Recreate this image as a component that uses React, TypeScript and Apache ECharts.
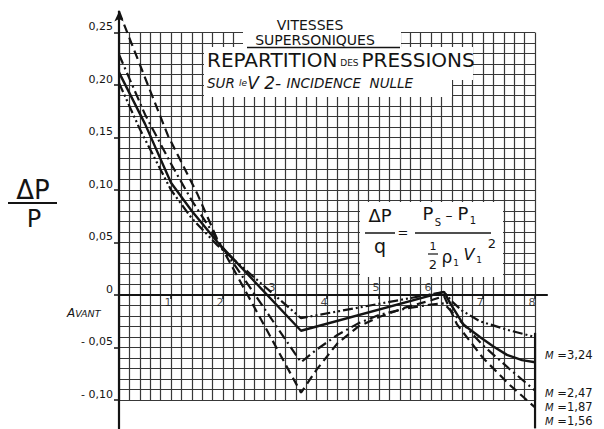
import React, { useEffect, useRef } from 'react';
import * as echarts from 'echarts';

// ---- data ----
const X_TICKS = [1, 2, 3, 4, 5, 6, 7, 8];
const X_TICK_LABELS = ['1', '2', '3', '4', '5', '6', '7', '8'];
const X_LABELS_ABOVE = ['3', '5', '6'];
const Y_TICKS = [-0.1, -0.05, 0, 0.05, 0.1, 0.15, 0.2, 0.25];
const Y_TICK_LABELS = ['- 0,10', '- 0,05', '0', '0,05', '0,10', '0,15', '0,20', '0,25'];

// M = 1,56 (dashed)
const X_M156 = [0, 0.5, 0.94, 1.5, 1.9, 3.5, 3.8, 4.2, 4.6, 5.0, 5.5, 6.0, 6.25, 6.5, 7.0, 7.5, 8.0];
const Y_M156 = [0.27, 0.207, 0.152, 0.097, 0.052, -0.093, -0.071, -0.046, -0.03, -0.021, -0.012, -0.005, -0.001, -0.028, -0.06, -0.085, -0.107];
// M = 1,87 (dash-dot)
const X_M187 = [0, 0.5, 1.0, 1.4, 1.9, 3.5, 3.8, 4.2, 4.6, 5.0, 5.5, 6.0, 6.25, 7.0, 7.5, 8.0];
const Y_M187 = [0.229, 0.172, 0.125, 0.09, 0.052, -0.064, -0.052, -0.038, -0.027, -0.019, -0.013, -0.009, -0.008, -0.048, -0.07, -0.091];
// M = 2,47 (solid)
const X_M247 = [0, 0.5, 1.0, 1.4, 1.9, 3.5, 6.25, 6.37, 6.62, 6.94, 7.2, 7.46, 7.75, 8.0];
const Y_M247 = [0.212, 0.163, 0.107, 0.08, 0.05, -0.034, 0.003, -0.008, -0.028, -0.04, -0.049, -0.057, -0.062, -0.064];
// M = 3,24 (dash-dot-dot)
const X_M324 = [0, 0.4, 1.0, 1.4, 1.9, 3.5, 6.25, 6.4, 6.6, 6.94, 7.46, 8.0];
const Y_M324 = [0.202, 0.158, 0.1, 0.073, 0.047, -0.022, 0.003, -0.006, -0.015, -0.025, -0.033, -0.04];

const M_LABELS = ['M =3,24', 'M =2,47', 'M =1,87', 'M =1,56'];
const BRACKET_X = 8;
const BRACKET_Y = [-0.036, -0.127];

const FONT = '"DejaVu Sans", sans-serif';
const INK = '#141414';

function zip(xs: number[], ys: number[]) {
  return xs.map((x, i) => [x, ys[i]]);
}

function txt(text: string, x: number, y: number, size: number, extra: any = {}) {
  return {
    type: 'text',
    x,
    y,
    z: 10,
    silent: true,
    style: {
      text,
      fill: INK,
      fontSize: size,
      fontFamily: FONT,
      align: extra.align || 'center',
      verticalAlign: 'middle',
      fontStyle: extra.fontStyle || 'normal',
      rich: extra.rich,
    },
  };
}

function ln(x1: number, y1: number, x2: number, y2: number, w = 1.6) {
  return {
    type: 'line',
    z: 10,
    silent: true,
    shape: { x1, y1, x2, y2 },
    style: { stroke: INK, lineWidth: w },
  };
}

function whiteRect(x: number, y: number, width: number, height: number) {
  return {
    type: 'rect',
    z: 1,
    silent: true,
    shape: { x, y, width, height },
    style: { fill: '#fff' },
  };
}

export default function App() {
  const ref = useRef<HTMLDivElement>(null);

  useEffect(() => {
    if (!ref.current) return;
    const chart = echarts.init(ref.current, undefined, { renderer: 'svg' });

    const lineSeries = (name: string, data: number[][], type: any, width = 2.2) => ({
      name,
      type: 'line',
      xAxisIndex: 0,
      yAxisIndex: 0,
      data,
      symbol: 'none',
      smooth: false,
      z: 3,
      silent: true,
      lineStyle: { color: INK, width, type },
    });

    const option: any = {
      animation: false,
      backgroundColor: '#ffffff',
      grid: [
        { left: 119, right: 57, top: 11.5, bottom: 0.6 },
        { left: 119, right: 69, top: 32.5, bottom: 29 },
      ],
      xAxis: [
        {
          gridIndex: 0,
          type: 'value',
          min: 0,
          max: 8.23,
          axisLine: { show: true, onZero: true, lineStyle: { color: INK, width: 2.2 } },
          axisTick: { show: true, customValues: X_TICKS, length: 4, lineStyle: { color: INK, width: 1.5 } },
          axisLabel: { show: false },
          splitLine: { show: false },
        },
        {
          gridIndex: 1,
          type: 'value',
          min: 0,
          max: 8,
          interval: 0.2,
          axisLine: { show: false },
          axisTick: { show: false },
          axisLabel: { show: false },
          splitLine: { show: true, lineStyle: { color: '#383838', width: 1.2 } },
        },
      ],
      yAxis: [
        {
          gridIndex: 0,
          type: 'value',
          min: -0.127,
          max: 0.27,
          axisLine: {
            show: true,
            symbol: ['none', 'arrow'],
            symbolSize: [7, 10],
            lineStyle: { color: INK, width: 2.2 },
          },
          axisTick: { show: true, customValues: Y_TICKS, length: 5, lineStyle: { color: INK, width: 1.5 } },
          axisLabel: {
            show: true,
            customValues: Y_TICKS,
            formatter: (v: number) => {
              const i = Y_TICKS.findIndex((t) => Math.abs(t - v) < 1e-6);
              return i >= 0 ? Y_TICK_LABELS[i] : '';
            },
            fontFamily: FONT,
            fontSize: 11,
            color: INK,
            margin: 6,
            verticalAlign: 'bottom',
            lineHeight: 12,
          },
          splitLine: { show: false },
        },
        {
          gridIndex: 1,
          type: 'value',
          min: -0.1,
          max: 0.25,
          interval: 0.01,
          axisLine: { show: false },
          axisTick: { show: false },
          axisLabel: { show: false },
          splitLine: { show: true, lineStyle: { color: '#383838', width: 1.2 } },
        },
      ],
      series: [
        lineSeries('M = 1,56', zip(X_M156, Y_M156), [9, 5]),
        lineSeries('M = 1,87', zip(X_M187, Y_M187), [10, 4, 2, 4]),
        lineSeries('M = 2,47', zip(X_M247, Y_M247), 'solid', 2.4),
        lineSeries('M = 3,24', zip(X_M324, Y_M324), [10, 3, 2, 3, 2, 3]),
        lineSeries('bracket', BRACKET_Y.map((y) => [BRACKET_X, y]), 'solid', 2.2),
        {
          name: 'xTickLabels',
          type: 'scatter',
          xAxisIndex: 0,
          yAxisIndex: 0,
          symbolSize: 0,
          silent: true,
          z: 4,
          data: X_TICKS.map((v, i) => ({
            value: [v, 0],
            label: {
              show: true,
              formatter: X_TICK_LABELS[i],
              position: X_LABELS_ABOVE.includes(X_TICK_LABELS[i]) ? 'top' : 'bottom',
              distance: 2,
              offset: [-3, 0],
              fontFamily: FONT,
              fontSize: 11,
              color: INK,
            },
          })),
        },
      ],
      graphic: [
        // white areas of the title block and the formula box
        whiteRect(243, 0, 158, 47),
        whiteRect(204, 47, 269, 33),
        whiteRect(204, 80, 248, 17),
        whiteRect(360, 202, 143, 75),
        // title block
        txt('VITESSES', 310, 25, 14),
        txt('SUPERSONIQUES', 315, 40, 14),
        ln(247, 47.5, 400, 47.5, 1.6),
        txt('{a|REPARTITION}{b| DES }{a|PRESSIONS}', 207, 60, 20, {
          align: 'left',
          rich: {
            a: { fontSize: 20, fontFamily: FONT, fill: INK, lineHeight: 20 },
            b: { fontSize: 9, fontFamily: FONT, fill: INK, lineHeight: 20, padding: [6, 0, 0, 0] },
          },
        }),
        txt('{a|SUR }{b|le}{c|V 2- }{a|INCIDENCE  NULLE}', 207, 83, 14, {
          align: 'left',
          fontStyle: 'italic',
          rich: {
            a: { fontSize: 13.5, fontFamily: FONT, fill: INK, fontStyle: 'italic', lineHeight: 17 },
            b: { fontSize: 9, fontFamily: FONT, fill: INK, fontStyle: 'italic', lineHeight: 17 },
            c: { fontSize: 17, fontFamily: FONT, fill: INK, fontStyle: 'italic', lineHeight: 17 },
          },
        }),
        // formula
        txt('ΔP', 380, 215, 18),
        ln(365, 233, 395, 233, 1.5),
        txt('q', 380, 246, 19),
        txt('=', 403, 232, 13),
        txt('P', 428, 213, 18),
        txt('S', 438, 222, 10),
        txt('–', 449, 215, 14),
        txt('P', 463, 213, 18),
        txt('1', 473, 220, 10),
        ln(415, 233, 491, 233, 1.5),
        txt('1', 433, 246, 11),
        ln(428, 254, 438, 254, 1.2),
        txt('2', 433, 264, 13),
        txt('ρ', 447, 257, 17),
        txt('1', 456, 263, 9),
        txt('V', 469, 254, 16, { fontStyle: 'italic' }),
        txt('1', 479, 260, 9),
        txt('2', 492, 243, 13),
        // left quantity label
        txt('ΔP', 33, 190, 26),
        ln(8, 203, 57, 203, 2),
        txt('P', 34, 219, 24),
        txt('{a|A}{b|VANT}', 67, 313, 12, {
          align: 'left',
          rich: {
            a: { fontSize: 12, fontFamily: FONT, fill: INK, fontStyle: 'italic' },
            b: { fontSize: 9.5, fontFamily: FONT, fill: INK, fontStyle: 'italic' },
          },
        }),
        // Mach labels
        ...M_LABELS.map((s, i) =>
          txt('{m|M}{n|' + s.slice(1) + '}', 545, [355, 393, 407, 421][i], 11.5, {
            align: 'left',
            rich: {
              m: { fontSize: 10, fontFamily: FONT, fill: INK, fontStyle: 'italic', lineHeight: 13 },
              n: { fontSize: 11.5, fontFamily: FONT, fill: INK, lineHeight: 13 },
            },
          })
        ),
      ],
    };

    chart.setOption(option);
    return () => chart.dispose();
  }, []);

  return (
    <div
      ref={ref}
      style={{ position: 'absolute', left: 0, top: 0, width: 604, height: 429, background: '#fff' }}
    />
  );
}
